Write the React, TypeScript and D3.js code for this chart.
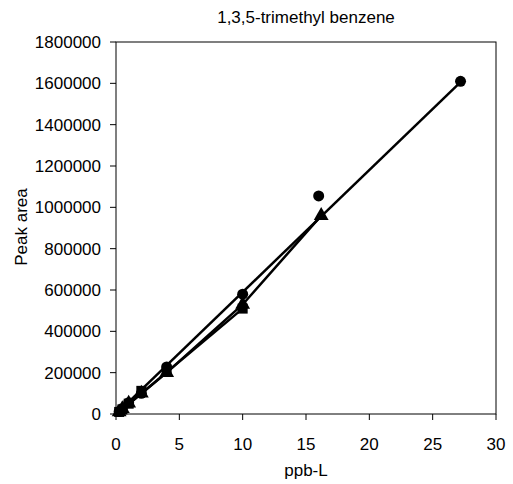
import React from "react";
import * as d3 from "d3";

const title = "1,3,5-trimethyl benzene";
const xLabel = "ppb-L";
const yLabel = "Peak area";
const xTicks = [0, 5, 10, 15, 20, 25, 30];
const yTicks = [0, 200000, 400000, 600000, 800000, 1000000, 1200000, 1400000, 1600000, 1800000];

const circles: [number, number][] = [
  [0.25, 12000], [0.5, 25000], [1, 55000], [2, 100000], [4, 228000],
  [10, 580000], [16, 1055000], [27.2, 1610000],
];
const squares: [number, number][] = [
  [0.25, 10000], [0.5, 22000], [1, 50000], [2, 112000], [4, 205000], [10, 510000],
];
const triangles: [number, number][] = [
  [0.25, 10000], [0.5, 25000], [1, 52000], [2, 100000], [4, 200000],
  [10, 530000], [16.2, 960000],
];
const circleLine: [number, number][] = [[0.25, 14000], [27.2, 1606000]];
const squareLine: [number, number][] = [[0.25, 10000], [10, 510000]];
const triangleLine: [number, number][] = [[0.25, 10000], [4, 200000], [10, 530000], [16.2, 960000]];

const W = 513, H = 484;
const M = { left: 116, right: 496, top: 42, bottom: 414 };
const FONT = "'Liberation Sans', Arial, sans-serif";
const FS = 17;

export default function App() {
  const x = d3.scaleLinear().domain([0, 30]).range([M.left, M.right]);
  const y = d3.scaleLinear().domain([0, 1800000]).range([M.bottom, M.top]);
  const line = d3.line<[number, number]>().x(d => x(d[0])).y(d => y(d[1]));
  const tri = d3.symbol().type(d3.symbolTriangle).size(95)() as string;
  return (
    <svg width={W} height={H} style={{ position: "absolute", left: 0, top: 0 }}>
      <rect x={0} y={0} width={W} height={H} fill="#fff" />
      <text x={(M.left + M.right) / 2} y={23} textAnchor="middle" fontFamily={FONT} fontSize={FS}>{title}</text>
      <path d={line(circleLine)!} fill="none" stroke="#000" strokeWidth={2.5} />
      <path d={line(squareLine)!} fill="none" stroke="#000" strokeWidth={2.5} />
      <path d={line(triangleLine)!} fill="none" stroke="#000" strokeWidth={2.5} />
      {circles.map((d, i) => <circle key={"c" + i} cx={x(d[0])} cy={y(d[1])} r={5.5} fill="#000" />)}
      {squares.map((d, i) => <rect key={"s" + i} x={x(d[0]) - 5} y={y(d[1]) - 5} width={10} height={10} fill="#000" />)}
      {triangles.map((d, i) => <path key={"t" + i} d={tri} transform={`translate(${x(d[0])},${y(d[1])})`} fill="#000" />)}
      <rect x={M.left} y={M.top} width={M.right - M.left} height={M.bottom - M.top} fill="none" stroke="#000" strokeWidth={1} />
      {xTicks.map(t => (
        <g key={"x" + t}>
          <line x1={x(t)} x2={x(t)} y1={M.bottom} y2={M.bottom + 6} stroke="#000" />
          <text x={x(t)} y={450} textAnchor="middle" fontFamily={FONT} fontSize={FS}>{t}</text>
        </g>
      ))}
      {yTicks.map(t => (
        <g key={"y" + t}>
          <line x1={M.left - 6} x2={M.left} y1={y(t)} y2={y(t)} stroke="#000" />
          <text x={101} y={y(t) + 6} textAnchor="end" fontFamily={FONT} fontSize={FS}>{t}</text>
        </g>
      ))}
      <text x={(M.left + M.right) / 2} y={476} textAnchor="middle" fontFamily={FONT} fontSize={FS}>{xLabel}</text>
      <text transform={`translate(27,${227}) rotate(-90)`} textAnchor="middle" fontFamily={FONT} fontSize={FS}>{yLabel}</text>
    </svg>
  );
}
